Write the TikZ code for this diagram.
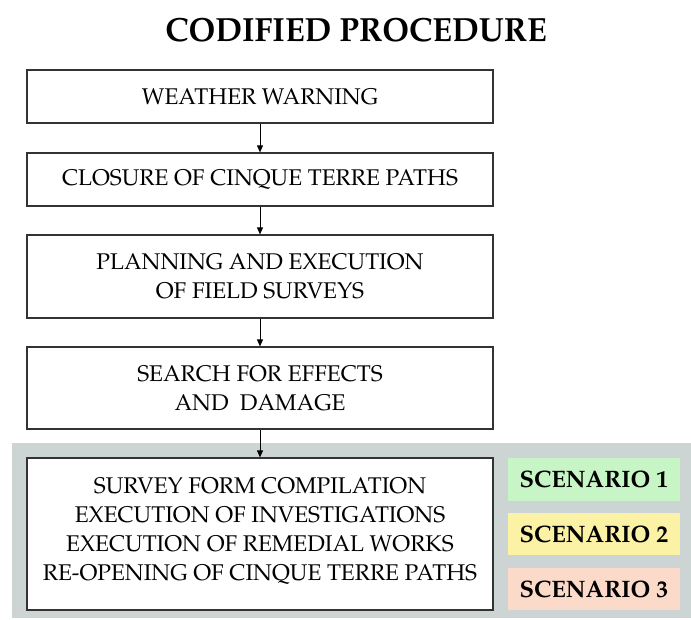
\documentclass[tikz,border=0pt]{standalone}
\usepackage[T1]{fontenc}
\usepackage{mathpazo}
\usetikzlibrary{arrows.meta}
\definecolor{bandgrey}{HTML}{CDD5D4}
\definecolor{scgreen}{HTML}{C8F5C6}
\definecolor{scyellow}{HTML}{FBF2A6}
\definecolor{scred}{HTML}{FCDACA}
\definecolor{edge}{HTML}{333333}
\tikzset{
  stepbox/.style={draw=edge, line width=1.2pt, fill=white, inner sep=0pt,
    minimum width=466pt, align=center,
    font=\fontsize{22.7}{29}\selectfont},
  scenbox/.style={inner sep=0pt, minimum width=172pt, minimum height=42pt,
    font=\fontsize{23.8}{28}\bfseries\selectfont},
  flow/.style={draw=black, line width=0.9pt, -{Triangle[length=7pt,width=6pt]}}
}
\begin{document}
\begin{tikzpicture}[x=1pt,y=-1pt]
  \useasboundingbox (0,0) rectangle (691,619);
  % shaded band behind the final step and the scenarios
  \fill[bandgrey] (12,443) rectangle (691,618);

  \node[font=\fontsize{33.5}{40}\bfseries\selectfont] (title) at (356,30)
    {\scalebox{0.96}[1]{CODIFIED PROCEDURE}};

  \node[stepbox, minimum height=53pt] (b1) at (260,96.5) {WEATHER WARNING};
  \node[stepbox, minimum height=53pt] (b2) at (260,179.5) {CLOSURE OF CINQUE TERRE PATHS};
  \node[stepbox, minimum height=83pt] (b3) at (260,276.5) {PLANNING AND EXECUTION\\OF FIELD SURVEYS};
  \node[stepbox, minimum height=82pt] (b4) at (260,388) {SEARCH FOR EFFECTS\\AND\ \ DAMAGE};
  \node[stepbox, minimum height=152pt] (b5) at (260,534) {};
  \node[align=center, inner sep=0pt, font=\fontsize{22.7}{29}\selectfont] (b5t) at (260,531.5)
    {SURVEY FORM COMPILATION\\EXECUTION OF INVESTIGATIONS\\EXECUTION OF REMEDIAL WORKS\\RE-OPENING OF CINQUE TERRE PATHS};

  \node[scenbox, fill=scgreen, minimum height=43pt] (s1) at (594,479.5) {SCENARIO 1};
  \node[scenbox, fill=scyellow] (s2) at (594,534) {SCENARIO 2};
  \node[scenbox, fill=scred] (s3) at (594,589) {SCENARIO 3};

  \draw[flow] (b1) -- (b2);
  \draw[flow] (b2) -- (b3);
  \draw[flow] (b3) -- (b4);
  \draw[flow] (b4) -- (b5);
\end{tikzpicture}
\end{document}
